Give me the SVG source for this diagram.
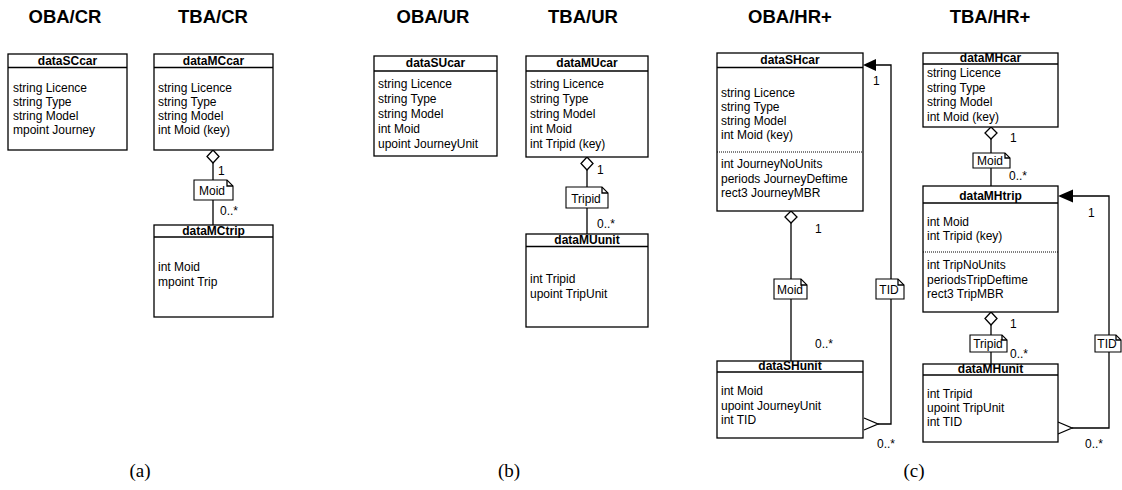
<svg xmlns="http://www.w3.org/2000/svg" width="1122" height="490" viewBox="0 0 1122 490">
<style>
.box{fill:#fff;stroke:#000;stroke-width:1.3}
.sep{stroke:#000;stroke-width:1.3}
.dot{stroke:#000;stroke-width:1;stroke-dasharray:1,1}
.t{font-family:"Liberation Sans",Arial,sans-serif;font-size:12px;fill:#000}
.h{font-family:"Liberation Sans",Arial,sans-serif;font-size:12px;font-weight:bold;fill:#000;text-anchor:middle}
.title{font-family:"Liberation Sans",Arial,sans-serif;font-size:18.5px;font-weight:bold;fill:#000;text-anchor:middle}
.sub{font-family:"Liberation Serif","Times New Roman",serif;font-size:19px;fill:#000;text-anchor:middle}
.ln{fill:none;stroke:#000;stroke-width:1.3}
.note{fill:#fff;stroke:#000;stroke-width:1.1}
.nt{font-family:"Liberation Sans",Arial,sans-serif;font-size:12px;fill:#000;text-anchor:middle}
.m{font-family:"Liberation Sans",Arial,sans-serif;font-size:12px;fill:#000}
</style>

<!-- Titles -->
<text class="title" x="65" y="23">OBA/CR</text>
<text class="title" x="213" y="23">TBA/CR</text>
<text class="title" x="433" y="23">OBA/UR</text>
<text class="title" x="583" y="23">TBA/UR</text>
<text class="title" x="790" y="23">OBA/HR+</text>
<text class="title" x="990" y="23">TBA/HR+</text>

<text class="sub" x="140" y="477">(a)</text>
<text class="sub" x="509" y="477">(b)</text>
<text class="sub" x="914" y="477">(c)</text>

<!-- Connectors -->
<g id="connectors">
  <!-- MC -->
  <polygon class="box" points="213,150 219,156.5 213,163 207,156.5"/>
  <line class="ln" x1="213" y1="163" x2="213" y2="180"/>
  <line class="ln" x1="213" y1="200" x2="213" y2="225"/>
  <text class="m" x="218" y="175">1</text>
  <text class="m" x="220" y="215">0..*</text>
  <!-- MU -->
  <polygon class="box" points="587,157 593,163.5 587,170 581,163.5"/>
  <line class="ln" x1="587" y1="170" x2="587" y2="187"/>
  <line class="ln" x1="587" y1="208" x2="587" y2="234"/>
  <text class="m" x="597" y="174">1</text>
  <text class="m" x="597" y="228">0..*</text>
  <!-- SH Moid -->
  <polygon class="box" points="791,211 797,217 791,223 785,217"/>
  <line class="ln" x1="791" y1="223" x2="791" y2="279"/>
  <line class="ln" x1="791" y1="299" x2="791" y2="361"/>
  <text class="m" x="815" y="233">1</text>
  <text class="m" x="815" y="348">0..*</text>
  <!-- SH TID -->
  <polyline class="ln" points="878,424 891,424 891,65 875,65"/>
  <polygon points="863,65 876,59 876,71" fill="#000"/>
  <polyline class="ln" points="864,418 878,424 864,430"/>
  <text class="m" x="873" y="85">1</text>
  <text class="m" x="877" y="448">0..*</text>
  <!-- MH Moid -->
  <polygon class="box" points="991,127 997,133 991,139 985,133"/>
  <line class="ln" x1="991" y1="139" x2="991" y2="153"/>
  <line class="ln" x1="991" y1="168" x2="991" y2="186"/>
  <text class="m" x="1010" y="142">1</text>
  <text class="m" x="1009" y="180">0..*</text>
  <!-- MH Tripid -->
  <polygon class="box" points="991,312 997,318.5 991,325 985,318.5"/>
  <line class="ln" x1="991" y1="325" x2="991" y2="335"/>
  <line class="ln" x1="991" y1="352" x2="991" y2="364"/>
  <text class="m" x="1010" y="328">1</text>
  <text class="m" x="1010" y="358">0..*</text>
  <!-- MH TID -->
  <polyline class="ln" points="1072,428 1109,428 1109,196 1072,196"/>
  <polygon points="1058,196 1073,189.5 1073,202.5" fill="#000"/>
  <polyline class="ln" points="1058,422 1072,428 1058,434"/>
  <text class="m" x="1088" y="217">1</text>
  <text class="m" x="1085" y="448">0..*</text>
</g>

<!-- Notes -->
<g id="note-mc-moid">
  <path class="note" d="M194,180 H227 L233,186 V200 H194 Z"/>
  <path class="ln" d="M227,180 V186 H233" stroke-width="1"/>
  <text class="nt" x="212" y="195">Moid</text>
</g>
<g id="note-mu-tripid">
  <path class="note" d="M566,187 H602 L608,193 V208 H566 Z"/>
  <path class="ln" d="M602,187 V193 H608" stroke-width="1"/>
  <text class="nt" x="586" y="203">Tripid</text>
</g>
<g id="note-sh-moid">
  <path class="note" d="M774,279 H801 L807,285 V299 H774 Z"/>
  <path class="ln" d="M801,279 V285 H807" stroke-width="1"/>
  <text class="nt" x="790" y="294">Moid</text>
</g>
<g id="note-sh-tid">
  <path class="note" d="M876,279 H898 L904,285 V299 H876 Z"/>
  <path class="ln" d="M898,279 V285 H904" stroke-width="1"/>
  <text class="nt" x="889" y="294">TID</text>
</g>
<g id="note-mh-moid">
  <path class="note" d="M973,153 H1005 L1010,158 V168 H973 Z"/>
  <path class="ln" d="M1005,153 V158 H1010" stroke-width="1"/>
  <text class="nt" x="990" y="165">Moid</text>
</g>
<g id="note-mh-tripid">
  <path class="note" d="M970,335 H1002 L1007,340 V352 H970 Z"/>
  <path class="ln" d="M1002,335 V340 H1007" stroke-width="1"/>
  <text class="nt" x="988" y="348">Tripid</text>
</g>
<g id="note-mh-tid">
  <path class="note" d="M1095,335 H1116 L1121,340 V352 H1095 Z"/>
  <path class="ln" d="M1116,335 V340 H1121" stroke-width="1"/>
  <text class="nt" x="1107" y="348">TID</text>
</g>

<!-- Panel a -->
<g id="dataSCcar">
  <rect class="box" x="8" y="54" width="119" height="96"/>
  <line class="sep" x1="8" y1="67.5" x2="127" y2="67.5"/>
  <text class="h" x="67.5" y="65">dataSCcar</text>
  <text class="t" x="13" y="92">string Licence</text>
  <text class="t" x="13" y="106">string Type</text>
  <text class="t" x="13" y="120">string Model</text>
  <text class="t" x="13" y="134">mpoint Journey</text>
</g>
<g id="dataMCcar">
  <rect class="box" x="154" y="54" width="119" height="96"/>
  <line class="sep" x1="154" y1="67.5" x2="273" y2="67.5"/>
  <text class="h" x="213.5" y="65">dataMCcar</text>
  <text class="t" x="158" y="92">string Licence</text>
  <text class="t" x="158" y="106">string Type</text>
  <text class="t" x="158" y="120">string Model</text>
  <text class="t" x="158" y="134">int Moid (key)</text>
</g>
<g id="dataMCtrip">
  <rect class="box" x="154" y="225" width="119" height="92"/>
  <line class="sep" x1="154" y1="237" x2="273" y2="237"/>
  <text class="h" x="213.5" y="235">dataMCtrip</text>
  <text class="t" x="158" y="271">int Moid</text>
  <text class="t" x="158" y="286">mpoint Trip</text>
</g>

<!-- Panel b -->
<g id="dataSUcar">
  <rect class="box" x="374" y="56" width="123" height="100"/>
  <line class="sep" x1="374" y1="71" x2="497" y2="71"/>
  <text class="h" x="435.5" y="67">dataSUcar</text>
  <text class="t" x="378" y="88">string Licence</text>
  <text class="t" x="378" y="103">string Type</text>
  <text class="t" x="378" y="118">string Model</text>
  <text class="t" x="378" y="133">int Moid</text>
  <text class="t" x="378" y="148">upoint JourneyUnit</text>
</g>
<g id="dataMUcar">
  <rect class="box" x="526" y="56" width="122" height="101"/>
  <line class="sep" x1="526" y1="71" x2="648" y2="71"/>
  <text class="h" x="587" y="67">dataMUcar</text>
  <text class="t" x="530" y="88">string Licence</text>
  <text class="t" x="530" y="103">string Type</text>
  <text class="t" x="530" y="118">string Model</text>
  <text class="t" x="530" y="133">int Moid</text>
  <text class="t" x="530" y="148">int Tripid (key)</text>
</g>
<g id="dataMUunit">
  <rect class="box" x="526" y="234" width="122" height="93"/>
  <line class="sep" x1="526" y1="246.5" x2="648" y2="246.5"/>
  <text class="h" x="587" y="244">dataMUunit</text>
  <text class="t" x="530" y="283">int Tripid</text>
  <text class="t" x="530" y="298">upoint TripUnit</text>
</g>

<!-- Panel c -->
<g id="dataSHcar">
  <rect class="box" x="717" y="53" width="146" height="158"/>
  <line class="sep" x1="717" y1="67.5" x2="863" y2="67.5"/>
  <text class="h" x="790" y="64">dataSHcar</text>
  <text class="t" x="721" y="97">string Licence</text>
  <text class="t" x="721" y="111">string Type</text>
  <text class="t" x="721" y="125">string Model</text>
  <text class="t" x="721" y="139">int Moid (key)</text>
  <line class="dot" x1="717" y1="152" x2="863" y2="152"/>
  <text class="t" x="721" y="168">int JourneyNoUnits</text>
  <text class="t" x="721" y="183">periods JourneyDeftime</text>
  <text class="t" x="721" y="197">rect3 JourneyMBR</text>
</g>
<g id="dataSHunit">
  <rect class="box" x="717" y="361" width="146" height="77"/>
  <line class="sep" x1="717" y1="372" x2="863" y2="372"/>
  <text class="h" x="790" y="370">dataSHunit</text>
  <text class="t" x="721" y="395">int Moid</text>
  <text class="t" x="721" y="410">upoint JourneyUnit</text>
  <text class="t" x="721" y="424">int TID</text>
</g>
<g id="dataMHcar">
  <rect class="box" x="923" y="53" width="135" height="74"/>
  <line class="sep" x1="923" y1="64" x2="1058" y2="64"/>
  <text class="h" x="990.5" y="62">dataMHcar</text>
  <text class="t" x="927" y="77">string Licence</text>
  <text class="t" x="927" y="91.5">string Type</text>
  <text class="t" x="927" y="106">string Model</text>
  <text class="t" x="927" y="120.5">int Moid (key)</text>
</g>
<g id="dataMHtrip">
  <rect class="box" x="923" y="186" width="135" height="126"/>
  <line class="sep" x1="923" y1="203" x2="1058" y2="203"/>
  <text class="h" x="990.5" y="200">dataMHtrip</text>
  <text class="t" x="927" y="226">int Moid</text>
  <text class="t" x="927" y="240">int Tripid (key)</text>
  <line class="dot" x1="923" y1="252" x2="1058" y2="252"/>
  <text class="t" x="927" y="269">int TripNoUnits</text>
  <text class="t" x="927" y="284">periodsTripDeftime</text>
  <text class="t" x="927" y="298">rect3 TripMBR</text>
</g>
<g id="dataMHunit">
  <rect class="box" x="923" y="364" width="135" height="78"/>
  <line class="sep" x1="923" y1="375" x2="1058" y2="375"/>
  <text class="h" x="990.5" y="373">dataMHunit</text>
  <text class="t" x="927" y="398">int Tripid</text>
  <text class="t" x="927" y="412">upoint TripUnit</text>
  <text class="t" x="927" y="426">int TID</text>
</g>
</svg>
